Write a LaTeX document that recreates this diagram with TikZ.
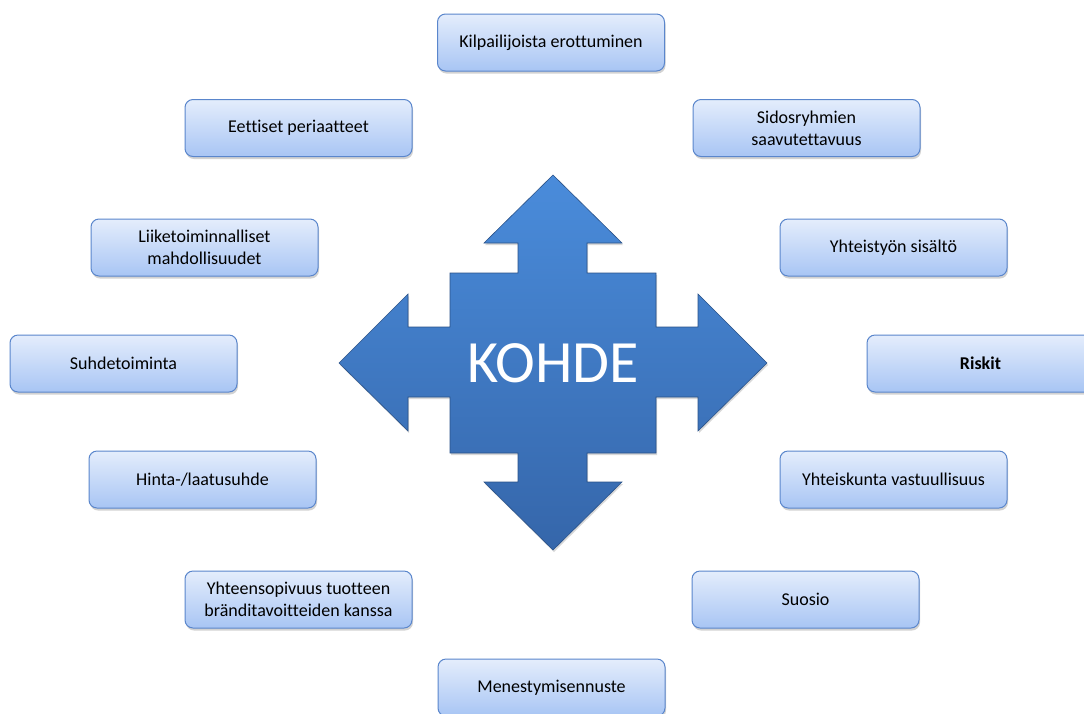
\documentclass[tikz,border=0pt]{standalone}
\usepackage{fontspec}
\setmainfont{Carlito}[Ligatures={NoCommon}]
\usetikzlibrary{shadows}
\definecolor{boxtop}{HTML}{E4EDFC}
\definecolor{boxbot}{HTML}{A8C5F4}
\definecolor{boxline}{HTML}{5A86CC}
\definecolor{arrtop}{HTML}{4A8CDB}
\definecolor{arrbot}{HTML}{3566AA}
\tikzset{
  item/.style={draw=boxline, line width=1pt, rounded corners=8pt,
    top color=boxtop, bottom color=boxbot,
    minimum width=227pt, minimum height=57pt, align=center,
    font=\fontsize{18}{22}\selectfont, text=black,
    drop shadow={shadow xshift=1pt, shadow yshift=-2.5pt, opacity=0.35, fill=gray}},
  bigarrow/.style={top color=arrtop, bottom color=arrbot, draw=arrbot!80!black, line width=0.6pt,
    drop shadow={shadow xshift=1pt, shadow yshift=-2pt, opacity=0.3, fill=gray}}
}
\begin{document}
\begin{tikzpicture}[x=1pt,y=-1pt]
\useasboundingbox (0,0) rectangle (1084,713);
\fill[white] (0,0) rectangle (1084,713);
% central four-way arrow
\path[bigarrow] (553,175) -- (622,243) -- (587,243) -- (587,273) -- (656,273) -- (656,327)
  -- (698,327) -- (698,294) -- (767,363) -- (698,431) -- (698,397) -- (656,397)
  -- (656,453) -- (587,453) -- (587,482) -- (622,482) -- (553,550) -- (484,482)
  -- (518,482) -- (518,453) -- (450,453) -- (450,397) -- (408,397) -- (408,431)
  -- (339,363) -- (408,294) -- (408,327) -- (450,327) -- (450,273) -- (518,273)
  -- (518,243) -- (484,243) -- cycle;
\node[text=white, font=\fontsize{60}{60}\selectfont] (kohde) at (553,363) {KOHDE};
% surrounding boxes
\node[item] (kil) at (551,42.5) {Kilpailijoista erottuminen};
\node[item] (eet) at (298.5,128) {Eettiset periaatteet};
\node[item] (sid) at (806.5,128) {Sidosryhmien\\saavutettavuus};
\node[item] (lii) at (204.5,247.5) {Liiketoiminnalliset\\mahdollisuudet};
\node[item] (yht) at (893.5,247.5) {Yhteistyön sisältö};
\node[item] (suh) at (123.5,363.5) {Suhdetoiminta};
\node[item, font=\fontsize{18}{22}\selectfont\bfseries] (ris) at (980.5,363.5) {Riskit};
\node[item] (hin) at (202.5,479.5) {Hinta-/laatusuhde};
\node[item] (yhk) at (893.5,479.5) {Yhteiskunta vastuullisuus};
\node[item] (yso) at (298.5,599.5) {Yhteensopivuus tuotteen\\bränditavoitteiden kanssa};
\node[item] (suo) at (805.5,599.5) {Suosio};
\node[item] (men) at (551.5,687.5) {Menestymisennuste};
\end{tikzpicture}
\end{document}
